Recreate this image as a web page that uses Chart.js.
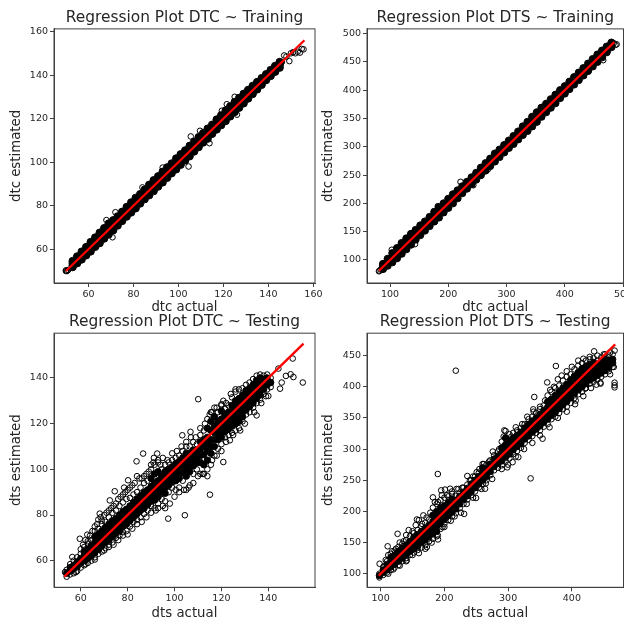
<!DOCTYPE html>
<html lang="en">
<head>
<meta charset="UTF-8">
<title>Regression Plots</title>
<script src="https://cdnjs.cloudflare.com/ajax/libs/Chart.js/4.4.1/chart.umd.min.js"></script>
<style>
    body { margin: 0; background: #fff; }
    canvas { position: absolute; filter: blur(0.45px); }
</style>
</head>
<body>
<canvas id="dtcTrain" width="330" height="318" style="left:0;top:0"></canvas>
<canvas id="dtsTrain" width="312" height="318" style="left:312px;top:0"></canvas>
<canvas id="dtcTest" width="318" height="312" style="left:0;top:312px"></canvas>
<canvas id="dtsTest" width="312" height="312" style="left:312px;top:312px"></canvas>

<script>
// Values: one list of estimates per actual value, plus the stray points
const dtcTrainActual = [53,55,57,59,61,63,65,67,69,71,73,75,77,79,81,83,85,87,89,91,93,95,97,99,101,103,105,107,109,111,113,115,117,119,121,123,125,127,129,131,133,135,137,139,141,143,145];
const dtcTrainEstimated = [
    [51.8,52.6,53.7,54.6],[53.6,54.5,55.8,56.7],[55.3,56.4,57.8,58.9],[57.2,58.3,59.6,61],
    [59,60.2,62,63.3],[61.1,62.3,63.9,65.4],[62.8,64.2,66,67.6],[64.9,66.2,67.9,69.7],
    [66.8,68.1,70,71.8],[68.7,70.2,71.9,73.3],[70.9,72.3,73.8,75.1],[73,74.2,75.9,77.2],
    [75,76.3,77.8,79.4],[76.9,78.2,79.9,81.5],[78.8,80.3,81.8,83.6],[81,82.2,83.9,85.3],
    [83,84.3,85.8,87.4],[84.8,86.2,87.9,89.6],[86.7,88.3,89.8,91.7],[88.8,90.2,91.9,93.5],
    [90.7,92.3,93.8,95.6],[92.8,94.2,95.9,97.6],[94.9,96.3,97.8,99.4],[96.7,98.2,99.9,101.7],
    [98.8,100.3,101.8,103.6],[100.8,102.2,103.9,105.4],[102.7,104.3,105.8,107.5],[104.9,106.2,107.9,109.4],
    [106.9,108.3,109.8,111.5],[109,110.2,111.9,113.3],[110.8,112.3,113.8,115.4],[113,114.2,115.9,117.2],
    [115,116.3,117.8,119.6],[117,118.2,119.9,121.5],[118.9,120.3,121.8,123.7],[121,122.2,123.9,125.6],
    [123,124.3,125.8,127.6],[125,126.2,127.9,129.5],[127,128.3,129.8,131.4],[129.2,130.2,131.9,133.2],
    [131.3,132.3,133.8,135],[133.4,134.2,135.9,136.8],[135.5,136.3,137.8,138.6],[137.7,138.4,139.7,140.4],
    [139.6,140.4,141.6,142.3],[141.5,142.4,143.5,144.2],[143.4,144.5,145.4,146]
];
const dtcTrainStrayActual = [50,50,50.5,51,147,148,146,149.3,150,151,152,153,154,154.8,155.6,126,105.5,109.6,113.8,104.5,84,70.7,68,72,93,119.3,121.5,125];
const dtcTrainStrayEstimated = [50,50.3,50,50.5,149,148.5,146,146.4,150,150.5,150,150.7,150.3,152,151.8,121.8,111.8,114.4,108.7,98,88.4,65.5,73.4,77,97.5,123.6,126.6,130];
const dtcTrainLineX = [50,156];
const dtcTrainLineY = [50,156];

const dtsTrainActual = [88,96,104,112,120,128,136,144,152,160,168,176,184,192,200,208,216,224,232,240,248,256,264,272,280,288,296,304,312,320,328,336,344,352,360,368,376,384,392,400,408,416,424,432,440,448,456,464,472,480];
const dtsTrainEstimated = [
    [84,87,90,93],[90,94,98,102],[96,102,106,112],[103,110,114,121],[111,118,122,130],
    [119,126,130,138],[127,134,138,146],[136,142,146,153],[144,150,154,161],[152,158,162,168],
    [160,166,170,176],[168,174,178,185],[175,182,186,193],[184,190,194,200],[192,198,202,208],
    [200,206,210,216],[209,214,218,223],[218,222,226,230],[226,230,234,238],[234,238,242,246],
    [242,246,250,254],[250,254,258,263],[258,262,266,271],[266,270,274,279],[274,278,282,288],
    [282,286,290,295],[290,294,298,303],[298,302,306,311],[305,310,314,319],[313,318,322,327],
    [321,326,330,336],[328,334,338,344],[336,342,346,353],[344,350,354,361],[353,358,362,369],
    [361,366,370,376],[369,374,378,384],[377,382,386,392],[386,390,394,400],[394,398,402,407],
    [402,406,410,415],[410,414,418,423],[418,422,426,431],[426,430,434,439],[434,438,442,447],
    [442,446,450,455],[450,454,458,463],[458,462,466,470],[467,470,474,477],[476,479,482,484]
];
const dtsTrainStrayActual = [81,82,84,221,243,268,143,466,487,489,484,182,103];
const dtsTrainStrayEstimated = [80,81,83,238,232,260,128,453,480,481,483,195,118];
const dtsTrainLineX = [81,485];
const dtsTrainLineY = [81,485];

const dtcTestActual = [54,55.5,57,58.5,60,61.5,63,64.5,66,67.5,69,70.5,72,73.5,75,76.5,78,79.5,81,82.5,84,85.5,87,88.5,90,91.5,93,94.5,96,97.5,99,100.5,102,103.5,105,106.5,108,109.5,111,112.5,114,115.5,117,118.5,120,121.5,123,124.5,126,127.5,129,130.5,132,133.5,135,136.5,138,139.5,141];
const dtcTestEstimated = [
    [53,54.5,56],[54,55.5,57,58.5],[54.5,56.5,58,60],[55.5,57.5,59.5,61.5],[57,59,61,63],
    [58,60,62,64,66],[59,61,63,65,67.5],[60,62,64.5,66.5,69],[61.5,63.5,65.5,68,70.5,73],
    [63,65,67,69,71.5,74],[64,66.5,68.5,70.5,73,76],[65.5,68,70,72,74.5,77],[67,69,71.5,73.5,76,79],
    [68,70.5,72.5,75,77.5,81],[70,72,74,76,78.5,82],[71,73,75.5,77.5,80,84],[72.5,75,77,79,81.5,85.5],
    [73,76,78,80,82.5,87],[75,77.5,80,82,84,87.5],[77,79,81,83.5,85.5,89],[78,80.5,82.5,85,87,90],
    [79,82,84,86.5,88.5,92],[80.5,83,85.5,87.5,90,94],[82,84.5,87,89,91,95],[84,86,88,90.5,92.5,96,100],
    [83,86.5,89,91.5,94,98,102],[85,88,90,92.5,95,99,103],[87,90,92,94.5,97,100],[86,89.5,92,94.5,97,99,102],
    [90,93,95,97.5,100,103],[92,94.5,97,99,101,104],[91,95,97.5,100,102.5,105],[92,96,99,101,103.5,106],
    [95,98.5,100.5,103,105,108],[91,97,100,102.5,104.5,107,110],[93,99,102,104.5,107,110],[98,101.5,104,106,108.5,112],
    [100,103,105.5,108,111],[98,103,106,109,112,115],[98,102,106.5,110,113,117],[97,104,108,111,114,118,122],
    [102,107,110,113,117,121,125],[106,110,113,116,119,123,127],[109,113,115.5,118,121,125],[111,114,116.5,119,122,125.5,128],
    [114,116.5,119,121,123.5,126.5],[115,117.5,120,122.5,125,128],[116,119,121,123,125.5,128,131.5],[117,120,122,124.5,127,130,134],
    [118,121,123,125.5,128,131,135],[121,123,125,127.5,130,132.5,135.5],[124,126,128,130,132,134.5,137],[125,127.5,129.5,131.5,133.5,135.5,138],
    [127,129,131,133,135,137,139.5],[129,131,133,135,137,139,141],[130.5,132.5,134.5,136.5,138,140,141.5],[133,135,136.5,138,139.5,141],
    [135,137,138.5,140,141.5],[136,138,140]
];
const dtcTestStrayActual = [110.1,120.8,123.6,135,120.8,115.1,104.4,97.3,83.8,86.6,92.6,91.2,103.3,106.8,154.7,150.7,149.5,147.5,145.7,145,150.4,144.3,140,59.6,74.5,80.2,68.1,72.4,62.8,56.4,53.3,
    60,61,62,63,64,65,66,67,67.5,68.5,69,70,71,72,73,74,75,76,77,78,78.5,79,80,81,82,83,84,85,86,87,88,89,90,91,93,94,95,97,99,101,103,105,107,109,111,113,115,116,118,120,122,124,126,
    58,62,66,70,72,74,76,78,80,82,84,86,88,90,92,93,95,96,98,100,102,104,106,108,110,112,114,116,118,120,122,125,128,130,134,137,139];
const dtcTestStrayEstimated = [130.7,130,112.7,123.6,103.2,88.9,79.9,78.4,103.5,106.9,106.9,105,114.9,116.4,138,140.4,141.6,140.9,138,135.3,148.5,144.1,132.1,69.6,90.4,95.2,80.6,86.4,71.4,61.6,55,
    65,67,69,68.5,71,73,75,76,78,79,77.5,80,81,82,83,84,85,87,88,89,92,90,91,92,93,94,97,96,96,97,98,99,102,103,104,102,105,104,107,108,110,112,114,114,118,120,124,125,127,128.5,129,133,135,
    55,58.5,60.5,64.5,66,67,69,71,71.5,74,76,77,79,81,82,83,84,83,85,88,90,91,92,94,97,98,100,104,106,108,112,115,117,120,125,129,132];
const dtcTestLineX = [53,155];
const dtcTestLineY = [53,155];

const dtsTestActual = [98,104,110,116,122,128,134,140,146,152,158,164,170,176,182,188,194,200,206,212,218,224,230,236,242,248,254,260,266,272,278,284,290,296,302,308,314,320,326,332,338,344,350,356,362,368,374,380,386,392,398,404,410,416,422,428,434,440,446,452,458,464];
const dtsTestEstimated = [
    [94,97,100],[98,102,106,110],[102,106,110,115,120],[106,111,115,120,126,132],[110,115,120,125,130,137],
    [114,120,125,130,136,143],[120,125,130,135,141,148],[125,130,135,140,146,154],[130,136,141,146,152,160],
    [134,140,146,152,158,165],[138,144,151,157,163,170],[142,150,156,162,168,176],[146,154,161,167,173,182],
    [152,160,166,172,178,187],[156,164,171,178,184,194,206],[160,168,176,183,190,200,212],[172,181,188,196,206,218],
    [180,187,194,201,209,222],[186,193,200,207,214,224],[192,199,206,213,220,228],[197,204,211,218,225],
    [205,212,218,224,230],[212,219,225,231,238],[219,225,231,237,243],[226,232,238,244,250],[232,238,244,250,256],
    [238,244,250,256,262],[244,250,256,262,270,276],[250,256,262,268,275],[258,264,270,276,282],[266,272,278,284,290],
    [270,277,283,289,296],[274,281,288,294,302,312],[280,287,294,300,307,318,329],[285,292,299,306,313,324],
    [292,299,305,311,318,326],[297,304,310,316,322,330],[302,309,315,321,327,334],[310,316,322,328,334,340],
    [315,321,328,334,340,348],[321,327,333,339,345,352],[326,332,338,344,350,358],[330,337,344,350,356,364],
    [336,343,350,356,362,370],[340,348,355,361,367,376,386],[348,354,360,366,372,380,392],[352,359,365,372,378,386,398],
    [358,365,371,378,384,392,402],[364,371,377,384,390,398,410],[368,376,383,390,396,404,416],[374,382,389,396,403,411,420],
    [382,389,396,402,409,417,428],[388,395,402,408,415,423,434],[392,400,407,414,421,429,438],[398,405,412,418,425,433,442],
    [405,411,417,423,429,436,444],[408,414,420,426,432,439,446],[412,418,424,430,436,442],[416,422,428,434,440,447],
    [420,426,432,438,444,452],[425,431,437,443,450],[432,438,444,452]
];
const dtsTestStrayActual = [217.9,189.7,236,335.3,354,341,339.4,361.3,374.9,434.9,467,467,467,465.7,467,444.8,438.5,420.8,406,381,294,298.7,307,316,249.7,231,263.8,209,201,195,219,182,156.9,167,126.6,111,98.4,189.7,197,172.5,141,250.7,214,
    105,108,112,118,124,130,136,140,144,150,155,160,165,172,178,185,190,196,204,212,222,228,240,245,255,262,270,276,286,293,298,305,312,322,330,340,350,358,366,372,378,384,392,400,410,418,428,440,450,460,
    112,120,130,140,150,160,170,180,190,200,210,216,226,235,245,258,265,275,290,300,312,325,338,350,365,378,392,405,418,430,445,460];
const dtsTestStrayEstimated = [425.8,260,256.8,253,316.7,383.6,363.8,407,433.3,456.9,406.6,402.4,399,431.7,458,406.6,403.4,397,378,365,330,270.7,279,287,221.5,196,236.4,236.4,235,233.8,236,222.5,187,193.6,164,144,116,161.5,175,142.8,121.4,263,215,
    112,122,130,136,140,150,152,162,170,168,178,186,180,190,198,215,215,226,226,232,236,238,250,256,268,276,280,296,300,320,312,320,335,340,352,360,368,378,395,400,412,418,425,432,442,445,448,450,452,455,
    100,107,113,120,130,133,140,150,155,175,185,192,198,212,222,236,245,252,268,275,288,300,310,322,335,350,360,372,385,398,405,420];
const dtsTestLineX = [97,468];
const dtsTestLineY = [97,468];

const tick60to160 = [60,80,100,120,140,160];
const tick60to140 = [60,80,100,120,140];
const tick100to500x = [100,200,300,400,500];
const tick100to500y = [100,150,200,250,300,350,400,450,500];
const tick100to400 = [100,200,300,400];
const tick100to450 = [100,150,200,250,300,350,400,450];

const textColor = '#262626';
const spineColor = '#404040';

// top and right spines, the axes only give left and bottom
const framePlugin = {
    id: 'frame',
    afterDraw(chart) {
        const a = chart.chartArea, c = chart.ctx;
        c.save();
        c.strokeStyle = spineColor;
        c.lineWidth = 1;
        c.strokeRect(a.left, a.top, a.right - a.left, a.bottom - a.top);
        c.restore();
    }
};

function axis(min, max, ticks, label, size, titlePad) {
    return {
        type: 'linear', min: min, max: max,
        afterBuildTicks: s => { s.ticks = ticks.map(v => ({ value: v })); },
        afterFit: s => {
            // no room kept for the end tick labels, they may hang over
            s.paddingLeft = s.paddingRight = s.paddingTop = s.paddingBottom = 0;
            if (s.isHorizontal()) s.height = size; else s.width = size;
        },
        grid: { drawOnChartArea: false, drawTicks: true, tickLength: 4, color: spineColor },
        border: { color: spineColor, width: 1 },
        ticks: { color: textColor, padding: 2, maxRotation: 0, autoSkip: false, font: { family: 'DejaVu Sans', size: 9.5 } },
        title: { display: true, text: label, color: textColor, padding: titlePad, font: { family: 'DejaVu Sans', size: 13.3 } }
    };
}

function plot(id, o) {
    // the inside of the cloud is solid black in the picture, the fringe and the strays read as open rings
    const core = [], rings = [];
    o.actual.forEach((a, i) => {
        const col = o.estimated[i];
        col.forEach((e, j) => (o.openEnds && (j === 0 || j === col.length - 1) ? rings : core).push({ x: a, y: e }));
    });
    o.strayX.forEach((a, i) => rings.push({ x: a, y: o.strayY[i] }));
    new Chart(document.getElementById(id), {
        type: 'scatter',
        data: { datasets: [
            { data: o.lineX.map((a, i) => ({ x: a, y: o.lineY[i] })), showLine: true, borderColor: '#f00', borderWidth: 2.3, pointRadius: 0, order: 0 },
            { data: core, pointRadius: o.coreRadius, pointBorderWidth: 1, pointBackgroundColor: '#000', pointBorderColor: '#000', order: 1 },
            { data: rings, pointRadius: 2.8, pointBorderWidth: 1, pointBackgroundColor: 'rgba(0,0,0,0)', pointBorderColor: '#000', order: 2 }
        ] },
        options: {
            responsive: false,
            animation: false,
            layout: { autoPadding: false, padding: { top: 0, left: 0, right: o.right, bottom: 0 } },
            plugins: {
                legend: { display: false },
                tooltip: { enabled: false },
                title: { display: true, fullSize: false, text: o.title, color: textColor, padding: o.titlePad, font: { family: 'DejaVu Sans', size: 15.4, weight: 'normal' } }
            },
            scales: {
                x: axis(o.xMin, o.xMax, o.xTicks, o.xLabel, o.xSize, { top: 0, bottom: 2 }),
                y: axis(o.yMin, o.yMax, o.yTicks, o.yLabel, o.ySize, { top: 9, bottom: 0 })
            }
        },
        plugins: [framePlugin]
    });
}

plot('dtcTrain', { title: 'Regression Plot DTC ~ Training', actual: dtcTrainActual, estimated: dtcTrainEstimated, strayX: dtcTrainStrayActual, strayY: dtcTrainStrayEstimated, lineX: dtcTrainLineX, lineY: dtcTrainLineY, coreRadius: 3.7,
    xMin: 44.7, xMax: 160.7, yMin: 44.5, yMax: 161.2, xTicks: tick60to160, yTicks: tick60to160, xLabel: 'dtc actual', yLabel: 'dtc estimated', xSize: 35, ySize: 54, right: 15, titlePad: { top: 9, bottom: 1.4 } });
plot('dtsTrain', { title: 'Regression Plot DTS ~ Training', actual: dtsTrainActual, estimated: dtsTrainEstimated, strayX: dtsTrainStrayActual, strayY: dtsTrainStrayEstimated, lineX: dtsTrainLineX, lineY: dtsTrainLineY, coreRadius: 3.6,
    xMin: 60.5, xMax: 500.8, yMin: 59.3, yMax: 508.3, xTicks: tick100to500x, yTicks: tick100to500y, xLabel: 'dtc actual', yLabel: 'dtc estimated', xSize: 35, ySize: 55, right: 0.5, titlePad: { top: 9, bottom: 1.4 } });
plot('dtcTest', { title: 'Regression Plot DTC ~ Testing', actual: dtcTestActual, estimated: dtcTestEstimated, strayX: dtcTestStrayActual, strayY: dtcTestStrayEstimated, lineX: dtcTestLineX, lineY: dtcTestLineY, coreRadius: 3.2, openEnds: true,
    xMin: 48.6, xMax: 159.9, yMin: 48.35, yMax: 159.6, xTicks: tick60to140, yTicks: tick60to140, xLabel: 'dts actual', yLabel: 'dts estimated', xSize: 36.7, ySize: 54, right: 3, titlePad: { top: 1.2, bottom: 1.5 } });
plot('dtsTest', { title: 'Regression Plot DTS ~ Testing', actual: dtsTestActual, estimated: dtsTestEstimated, strayX: dtsTestStrayActual, strayY: dtsTestStrayEstimated, lineX: dtsTestLineX, lineY: dtsTestLineY, coreRadius: 3.2, openEnds: true,
    xMin: 78.6, xMax: 481, yMin: 78.2, yMax: 486, xTicks: tick100to400, yTicks: tick100to450, xLabel: 'dts actual', yLabel: 'dts estimated', xSize: 36.7, ySize: 55, right: 0.5, titlePad: { top: 1.2, bottom: 1.5 } });
</script>
</body>
</html>
